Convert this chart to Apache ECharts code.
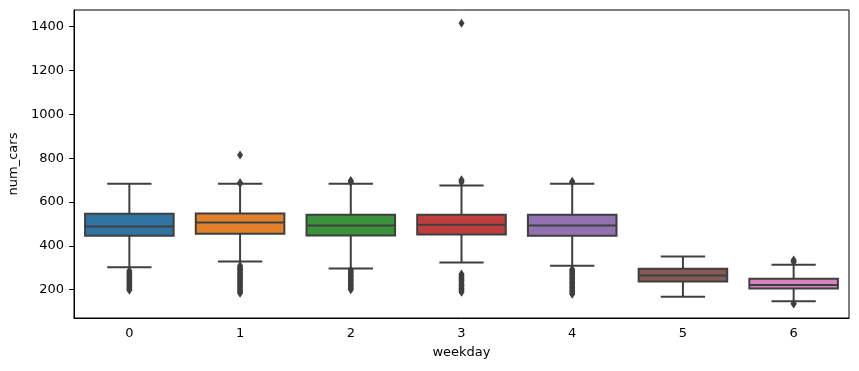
<!DOCTYPE html>
<html>
<head>
<meta charset="utf-8">
<script src="https://cdn.jsdelivr.net/npm/echarts@6/dist/echarts.min.js"></script>
<style>html,body{margin:0;padding:0;background:#fff;}#c{width:859px;height:371px;}</style>
</head>
<body>
<div id="c"></div>
<script>
var categories = ['0', '1', '2', '3', '4', '5', '6'];
// [lower whisker, Q1, median, Q3, upper whisker]
var boxStats = [
  [302, 446, 488, 546, 683],
  [329, 455, 507, 548, 683],
  [297, 447, 493, 542, 683],
  [324, 452, 496, 542, 675],
  [309, 446, 493, 542, 683],
  [168, 238, 265, 296, 352],
  [147, 206, 221, 250, 314]
];
var outliers0 = [286, 280, 274, 268, 262, 256, 250, 244, 238, 232, 226, 220, 214, 208, 202, 198];
var outliers1 = [814, 688, 684, 310, 304, 298, 292, 286, 280, 274, 268, 262, 256, 250, 244, 238, 232, 226, 220, 214, 208, 202, 196, 190, 184];
var outliers2 = [698, 694, 690, 290, 284, 278, 272, 266, 260, 254, 248, 242, 236, 230, 224, 218, 212, 206, 200];
var outliers3 = [1415, 702, 696, 690, 272, 266, 260, 254, 248, 242, 236, 230, 224, 218, 212, 206, 200, 194, 188];
var outliers4 = [695, 690, 293, 287, 281, 275, 269, 263, 257, 251, 245, 239, 233, 227, 221, 215, 209, 203, 197, 191, 185, 179];
var outliers5 = [];
var outliers6 = [336, 330, 326, 137, 135];
var yTickValues = [200, 400, 600, 800, 1000, 1200, 1400];
var boxColors = ['#3274a1', '#e1812c', '#3a923a', '#c03d3e', '#9372b2', '#845b53', '#d684bd'];
var lineColor = '#3f3f3f';

var outlierLists = [outliers0, outliers1, outliers2, outliers3, outliers4, outliers5, outliers6];
var boxData = boxStats.map(function (s, i) { return [i].concat(s); });
var outlierData = [];
outlierLists.forEach(function (list, i) {
  list.forEach(function (v) { outlierData.push([i, v]); });
});

var font = 'DejaVu Sans';
var chart = echarts.init(document.getElementById('c'), null, {renderer: 'canvas'});
chart.setOption({
  animation: false,
  backgroundColor: '#fff',
  grid: {left: 74, right: 10, top: 10, bottom: 53, show: true, borderColor: '#000', borderWidth: 1,
    backgroundColor: 'transparent', containLabel: false, outerBoundsMode: 'none'},
  xAxis: {
    type: 'category',
    data: categories,
    boundaryGap: true,
    name: 'weekday',
    nameLocation: 'middle',
    nameGap: 28,
    nameTextStyle: {fontFamily: font, fontSize: 13, color: '#000'},
    axisLine: {lineStyle: {color: '#000', width: 1}},
    axisTick: {alignWithLabel: true, length: 5, lineStyle: {color: '#000'}},
    axisLabel: {fontFamily: font, fontSize: 13, color: '#000', margin: 9},
    splitLine: {show: false}
  },
  yAxis: {
    type: 'value',
    min: 71,
    max: 1476,
    name: 'num_cars',
    nameLocation: 'middle',
    nameGap: 44,
    nameTextStyle: {fontFamily: font, fontSize: 13, color: '#000'},
    axisLine: {show: true, lineStyle: {color: '#000', width: 1}},
    axisTick: {show: true, length: 5, lineStyle: {color: '#000'}, customValues: yTickValues},
    axisLabel: {fontFamily: font, fontSize: 13, color: '#000', margin: 10, customValues: yTickValues,
      formatter: function (v) { return String(v); }},
    splitLine: {show: false}
  },
  series: [
    {
      type: 'custom',
      data: boxData,
      encode: {x: 0, y: [1, 2, 3, 4, 5]},
      z: 2,
      renderItem: function (params, api) {
        var x = api.value(0);
        var band = api.size([1, 0])[0];
        var hb = band * 0.4, hc = band * 0.2;
        var pMin = api.coord([x, api.value(1)]);
        var pQ1 = api.coord([x, api.value(2)]);
        var pMed = api.coord([x, api.value(3)]);
        var pQ3 = api.coord([x, api.value(4)]);
        var pMax = api.coord([x, api.value(5)]);
        var cx = pMin[0];
        var ls = {stroke: lineColor, lineWidth: 2};
        return {
          type: 'group',
          children: [
            {type: 'line', shape: {x1: cx, y1: pQ1[1], x2: cx, y2: pMin[1]}, style: ls},
            {type: 'line', shape: {x1: cx, y1: pQ3[1], x2: cx, y2: pMax[1]}, style: ls},
            {type: 'line', shape: {x1: cx - hc, y1: pMin[1], x2: cx + hc, y2: pMin[1]}, style: ls},
            {type: 'line', shape: {x1: cx - hc, y1: pMax[1], x2: cx + hc, y2: pMax[1]}, style: ls},
            {type: 'rect', shape: {x: cx - hb, y: pQ3[1], width: hb * 2, height: pQ1[1] - pQ3[1]},
              style: {fill: boxColors[params.dataIndex], stroke: lineColor, lineWidth: 2}},
            {type: 'line', shape: {x1: cx - hb, y1: pMed[1], x2: cx + hb, y2: pMed[1]}, style: ls}
          ]
        };
      }
    },
    {
      type: 'scatter',
      data: outlierData,
      symbol: 'diamond',
      symbolSize: [6, 9],
      z: 3,
      itemStyle: {color: lineColor, opacity: 1}
    }
  ]
});
</script>
</body>
</html>
